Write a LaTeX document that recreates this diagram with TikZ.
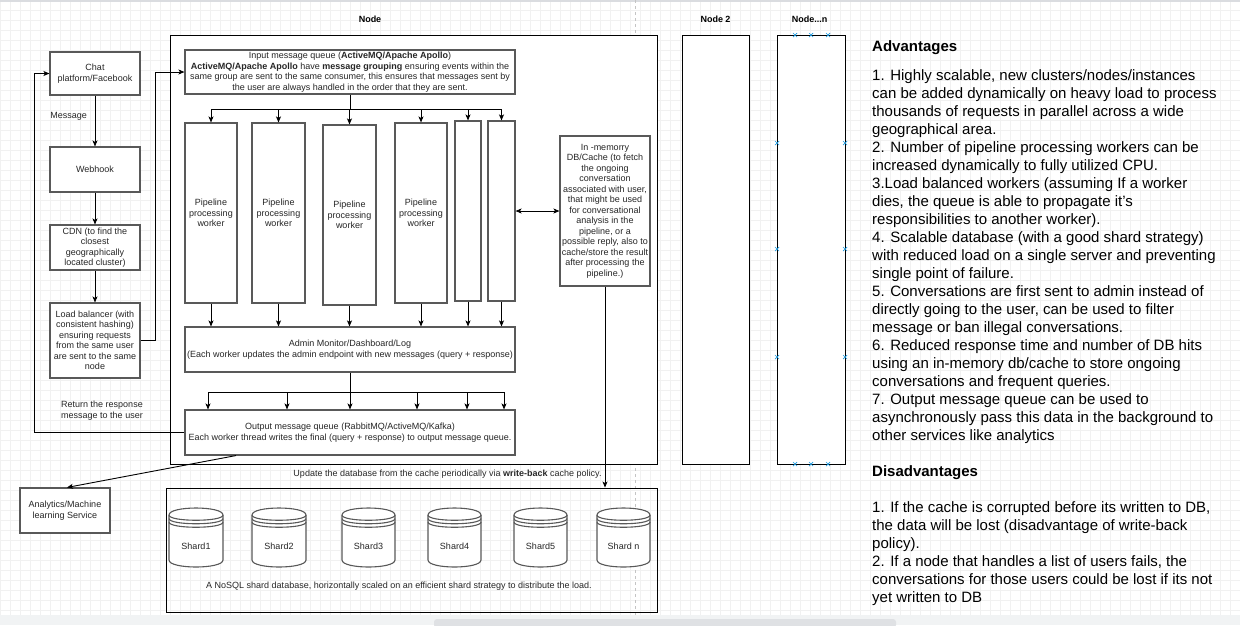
\documentclass[tikz,border=0pt]{standalone}
\usepackage{fontspec}
\setmainfont{Liberation Sans}
\usetikzlibrary{arrows.meta,calc}
\definecolor{gridc}{HTML}{F1F1F1}
\definecolor{boxc}{HTML}{595959}
\definecolor{txtc}{HTML}{262626}
\definecolor{mkc}{HTML}{1E9BE0}
\definecolor{pagec}{HTML}{C4C4C4}
\definecolor{stripc}{HTML}{F1F3F4}
\definecolor{barc}{HTML}{DFE1E4}
\definecolor{topc}{HTML}{DADCE0}
\newcommand\ninept{\fontsize{9}{10.5}\selectfont}
\newcommand\bigpt{\fontsize{15}{18}\selectfont}
\tikzset{
  box/.style={draw=boxc, line width=1.1pt, fill=white, inner sep=1pt, align=center, font=\ninept, text=txtc},
  nodebox/.style={draw=black, line width=0.9pt, fill=white},
  arr/.style={draw=black, line width=0.9pt, -{Stealth[length=6pt,width=5pt,inset=1.5pt]}},
  arrtwo/.style={draw=black, line width=0.9pt, {Stealth[length=6pt,width=5pt,inset=1.5pt]}-{Stealth[length=6pt,width=5pt,inset=1.5pt]}},
  conn/.style={draw=black, line width=0.9pt},
  lbl/.style={font=\ninept, text=txtc, inner sep=0pt, align=center},
  rtext/.style={font=\bigpt, text=black, inner sep=0pt, anchor=base west},
  mk/.style={draw=mkc, line width=0.7pt},
  cyl/.style={draw=boxc, line width=1.1pt}
}
\begin{document}
\begin{tikzpicture}[x=1pt,y=-1pt]
\useasboundingbox (0,0) rectangle (1240,625);
% background grid
\foreach \i in {0,10,...,1240} {\draw[gridc, line width=0.5pt] (\i,0) -- (\i,615);}
\foreach \j in {0,10,...,610} {\draw[gridc, line width=0.5pt] (0,\j) -- (1240,\j);}
\fill[topc] (0,0) rectangle (1240,1.5);
\fill[stripc] (0,615) rectangle (1240,625);
\fill[barc, rounded corners=3pt] (434,619) rectangle (896,628);
\draw[pagec, line width=0.6pt, dash pattern=on 3pt off 3pt] (635,0) -- (635,615);

% node labels
\node[lbl, font=\ninept\bfseries, text=black] (lnode) at (370,19.5) {Node};
\node[lbl, font=\ninept\bfseries, text=black] (lnode2) at (715.5,19.5) {Node 2};
\node[lbl, font=\ninept\bfseries, text=black] (lnoden) at (809.5,19.5) {Node...n};

% node containers
\node[nodebox, minimum width=487, minimum height=429] (nmain) at (413.5,249.5) {};
\node[nodebox, minimum width=67, minimum height=429] (ntwo) at (715.5,249.5) {};
\node[nodebox, minimum width=68, minimum height=429] (nn) at (811,249.5) {};
\foreach \mx/\my in {777/143,777/249,777/357,845/143,845/249,845/357,795/35,811/35,828/35,795/464,811/464,828/464}
  {\draw[mk] ({\mx-2},{\my-2}) -- ({\mx+2},{\my+2}) ({\mx-2},{\my+2}) -- ({\mx+2},{\my-2});}

% left column
\node[box, minimum width=90, minimum height=43] (chat) at (95,73.5) {Chat\\platform/Facebook};
\node[box, minimum width=90, minimum height=45] (webhook) at (95,169.5) {Webhook};
\node[box, minimum width=90, minimum height=45] (cdn) at (95,247.5) {CDN (to find the\\closest\\geographically\\located cluster)};
\node[box, minimum width=90, minimum height=75] (lb) at (95,340.5) {Load balancer (with\\consistent hashing)\\ensuring requests\\from the same user\\are sent to the same\\node};
\node[box, minimum width=90, minimum height=45] (ana) at (65,510.5) {Analytics/Machine\\learning Service};
\node[lbl] (msg) at (68.7,116.7) {Message};
\node[lbl] (ret) at (102,410.5) {Return the response\\message to the user};

% queues and workers
\node[box, minimum width=330, minimum height=44] (inq) at (350,72) {Input message queue (\textbf{ActiveMQ/Apache Apollo})\\\textbf{ActiveMQ/Apache Apollo} have \textbf{message grouping} ensuring events within the\\same group are sent to the same consumer, this ensures that messages sent by\\the user are always handled in the order that they are sent.};
\node[box, minimum width=52, minimum height=180] (w1) at (211,213) {Pipeline\\processing\\worker};
\node[box, minimum width=53, minimum height=180] (w2) at (278.5,213) {Pipeline\\processing\\worker};
\node[box, minimum width=53, minimum height=180] (w3) at (349.5,215) {Pipeline\\processing\\worker};
\node[box, minimum width=52, minimum height=180] (w4) at (421,213) {Pipeline\\processing\\worker};
\node[box, minimum width=26, minimum height=180] (w5) at (468,211) {};
\node[box, minimum width=27, minimum height=180] (w6) at (501.5,211) {};
\node[box, minimum width=330, minimum height=45] (admin) at (350,349.5) {Admin Monitor/Dashboard/Log\\(Each worker updates the admin endpoint with new messages (query + response)};
\node[box, minimum width=330, minimum height=45] (outq) at (350,432.5) {Output message queue (RabbitMQ/ActiveMQ/Kafka)\\Each worker thread writes the final (query + response) to output message queue.};
\node[box, minimum width=90, minimum height=150] (cache) at (605,211) {In -memorry\\DB/Cache (to fetch\\the ongoing\\conversation\\associated with user,\\that might be used\\for conversational\\analysis in the\\pipeline, or a\\possible reply, also to\\cache/store the result\\after processing the\\pipeline.)};

% database
\node[draw=black, line width=0.9pt, minimum width=491, minimum height=124] (db) at (411.5,550) {};
\foreach \xa/\xb/\lab/\nm in {169/223/Shard1/s1,252/306/Shard2/s2,342/395/Shard3/s3,428/481/Shard4/s4,514/567/Shard5/s5,597/650/Shard n/s6}{
  \def\ya{508}\def\yb{567}\def\dy{7}
  \filldraw[cyl, fill=white] (\xa,{\ya+\dy}) .. controls (\xa,{\ya-\dy/3}) and (\xb,{\ya-\dy/3}) .. (\xb,{\ya+\dy}) -- (\xb,{\yb-\dy}) .. controls (\xb,{\yb+\dy/3}) and (\xa,{\yb+\dy/3}) .. (\xa,{\yb-\dy}) -- cycle;
  \draw[cyl] (\xa,{\ya+\dy}) .. controls (\xa,{\ya+2*\dy}) and (\xb,{\ya+2*\dy}) .. (\xb,{\ya+\dy});
  \draw[cyl] (\xa,{\ya+1.5*\dy}) .. controls (\xa,{\ya+2.5*\dy}) and (\xb,{\ya+2.5*\dy}) .. (\xb,{\ya+1.5*\dy});
  \draw[cyl] (\xa,{\ya+2*\dy}) .. controls (\xa,{\ya+3*\dy}) and (\xb,{\ya+3*\dy}) .. (\xb,{\ya+2*\dy});
  \node[lbl] (\nm) at ({(\xa+\xb)/2},546) {\lab};
}
\node[lbl] (dbcap) at (399,586.5) {A NoSQL shard database, horizontally scaled on an efficient shard strategy to distribute the load.};
\node[lbl] (upd) at (447.5,474) {Update the database from the cache periodically via \textbf{write-back} cache policy.};

% connectors left
\draw[arr] (chat.south) -- (webhook.north);
\draw[arr] (webhook.south) -- (cdn.north);
\draw[arr] (cdn.south) -- (lb.north);
\draw[arr] (lb.east) -- ++(15,0) |- (inq.west);
\draw[arr] (outq.west) -- ++(-150,0) |- (chat.west);
\draw[arr] ([xshift=-114pt]outq.south) -- ([xshift=2pt]ana.north);

% input bus
\coordinate (ibus) at (350,109);
\draw[conn] (inq.south) -- (ibus);
\draw[conn] (w1.north |- ibus) -- (w6.north |- ibus);
\foreach \w in {w1,w2,w3,w4,w5,w6} {\draw[arr] (\w.north |- ibus) -- (\w.north);}
\foreach \w in {w1,w2,w3,w4,w5,w6} {\draw[arr] (\w.south) -- (\w.south |- admin.north);}

% output bus
\coordinate (obus) at (350,392);
\draw[conn] (admin.south) -- (obus);
\draw[conn] (208,392) -- (504,392);
\foreach \x in {208,287,350,417,467,504} {\draw[arr] (\x,392) -- (\x,392 |- outq.north);}

% cache
\draw[arrtwo] (w6.east) -- (cache.west);
\draw[arr] (cache.south) -- (cache.south |- db.north);

% right text
\node[rtext, font=\bigpt\bfseries] (advh) at (872,51.5) {Advantages};
\foreach \t [count=\k from 0] in {
{1. Highly scalable, new clusters/nodes/instances},
{can be added dynamically on heavy load to process},
{thousands of requests in parallel across a wide},
{geographical area.},
{2. Number of pipeline processing workers can be},
{increased dynamically to fully utilized CPU.},
{3.Load balanced workers (assuming If a worker},
{dies, the queue is able to propagate it's},
{responsibilities to another worker).},
{4. Scalable database (with a good shard strategy)},
{with reduced load on a single server and preventing},
{single point of failure.},
{5. Conversations are first sent to admin instead of},
{directly going to the user, can be used to filter},
{message or ban illegal conversations.},
{6. Reduced response time and number of DB hits},
{using an in-memory db/cache to store ongoing},
{conversations and frequent queries.},
{7. Output message queue can be used to},
{asynchronously pass this data in the background to},
{other services like analytics}}
{\node[rtext] (adv\k) at (872,{80.5+18*\k}) {\t};}
\node[rtext, font=\bigpt\bfseries] (dish) at (872,476.5) {Disadvantages};
\foreach \t [count=\k from 0] in {
{1. If the cache is corrupted before its written to DB,},
{the data will be lost (disadvantage of write-back},
{policy).},
{2. If a node that handles a list of users fails, the},
{conversations for those users could be lost if its not},
{yet written to DB}}
{\node[rtext] (dis\k) at (872,{512.5+18*\k}) {\t};}
\end{tikzpicture}
\end{document}
